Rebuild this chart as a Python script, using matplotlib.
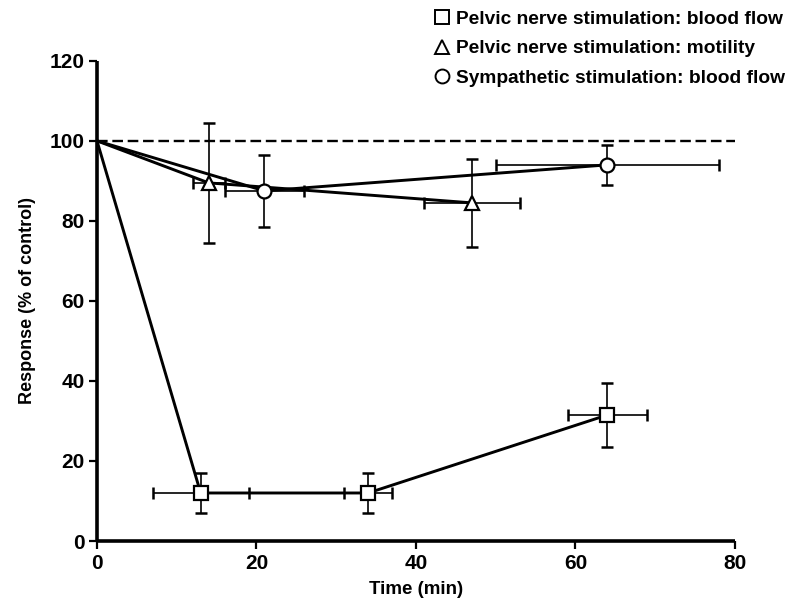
import matplotlib
matplotlib.use("Agg")
import matplotlib.pyplot as plt
from matplotlib.lines import Line2D

plt.rcParams['font.family'] = ['Liberation Sans', 'DejaVu Sans']

# Pelvic nerve stimulation: blood flow (squares)
sq_t = [0, 13, 34, 64]
sq_y = [100, 12, 12, 31.5]
sq_yerr = [0, 5, 5, 8]
sq_xerr = [0, 6, 3, 5]

# Pelvic nerve stimulation: motility (triangles)
tr_t = [0, 14, 47]
tr_y = [100, 89.5, 84.5]
tr_yerr = [0, 15, 11]
tr_xerr = [0, 2, 6]

# Sympathetic stimulation: blood flow (circles)
ci_t = [0, 21, 64]
ci_y = [100, 87.5, 94]
ci_yerr = [0, 9, 5]
ci_xerr = [0, 5, 14]

control_level = 100
labels = ["Pelvic nerve stimulation: blood flow",
          "Pelvic nerve stimulation: motility",
          "Sympathetic stimulation: blood flow"]

fig = plt.figure(figsize=(7.95, 6.04), dpi=100)
ax = fig.add_axes([0.122, 0.1043, 0.8025, 0.795])

ax.plot([0, 80], [control_level, control_level], ls=(0, (4.5, 2)), color='black', lw=1.7, zorder=1)

series = [(sq_t, sq_y, sq_xerr, sq_yerr, 's', 10.5),
          (tr_t, tr_y, tr_xerr, tr_yerr, '^', 10),
          (ci_t, ci_y, ci_xerr, ci_yerr, 'o', 10)]

for t, y, xe, ye, m, ms in series:
    ax.plot(t, y, color='black', lw=2.1, zorder=2, solid_capstyle='round')
    ax.errorbar(t[1:], y[1:], xerr=xe[1:], yerr=ye[1:], fmt='none', ecolor='black',
                elinewidth=1.2, capsize=4.5, capthick=1.8, zorder=3)
    ax.plot(t[1:], y[1:], ls='none', marker=m, ms=ms, mfc='white', mec='black', mew=1.6, zorder=4)

ax.set_xlim(0, 80)
ax.set_ylim(0, 120)
ax.set_xticks([0, 20, 40, 60, 80])
ax.set_yticks([0, 20, 40, 60, 80, 100, 120])
for s in ['top', 'right']:
    ax.spines[s].set_visible(False)
for s in ['left', 'bottom']:
    ax.spines[s].set_linewidth(2.6)
    ax.spines[s].set_capstyle('butt')
ax.tick_params(direction='out', length=6, width=1.6, labelsize=15, pad=3)
for lab in ax.get_xticklabels() + ax.get_yticklabels():
    lab.set_fontweight('bold')

ax.set_xlabel("Time (min)", fontsize=13.5, fontweight='bold', labelpad=6)
ax.set_ylabel("Response (% of control)", fontsize=13, fontweight='bold', labelpad=10)

handles = [Line2D([], [], ls='none', marker=m, ms=10, mfc='white', mec='black', mew=1.4)
           for m in ['s', '^', 'o']]
leg = fig.legend(handles, labels, loc='upper right', bbox_to_anchor=(1.006, 1.006),
                 frameon=False, prop={'size': 13.8, 'weight': 'bold'},
                 handletextpad=0.25, labelspacing=0.62,
                 handlelength=1.0, borderaxespad=0.35)

fig.savefig("out.png", dpi=100)
